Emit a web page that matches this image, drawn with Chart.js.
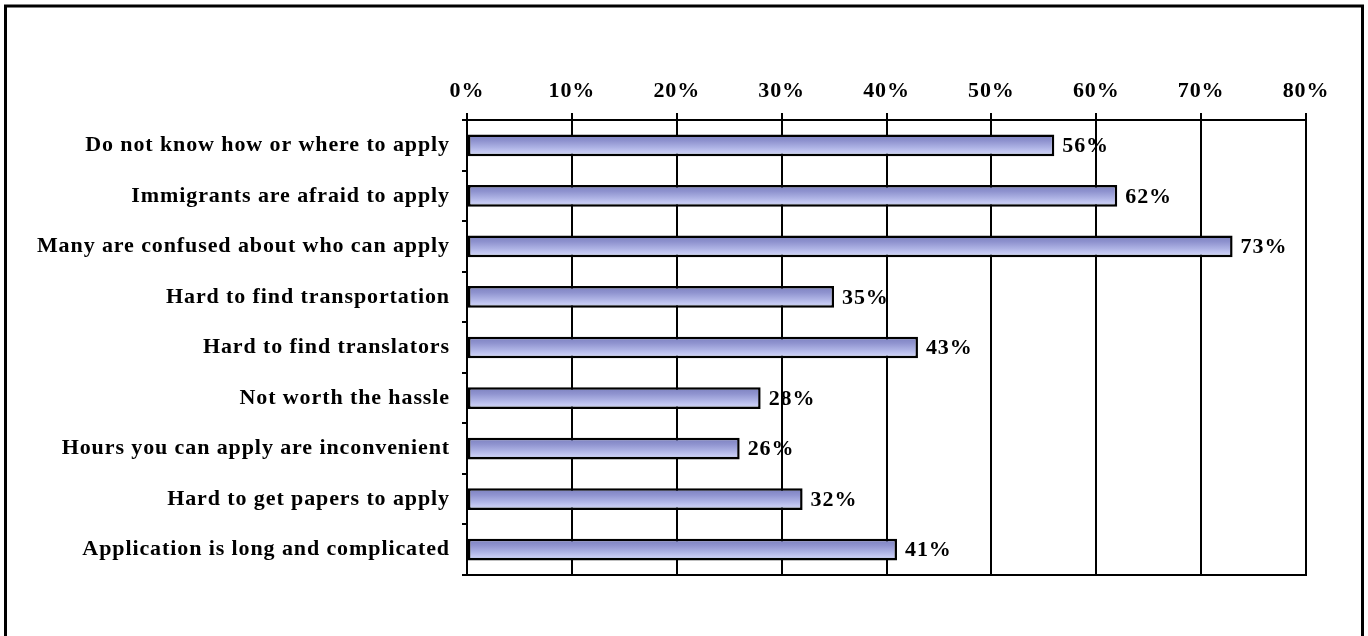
<!DOCTYPE html>
<html>
<head>
<meta charset="utf-8">
<script src="https://cdn.jsdelivr.net/npm/chart.js@4.4.1/dist/chart.umd.min.js"></script>
<style>
  html, body { margin: 0; padding: 0; background: #ffffff; }
  #wrap { position: absolute; left: 0; top: 0; width: 1368px; height: 636px; }
</style>
</head>
<body>
<div id="wrap"><canvas id="c" width="1368" height="636"></canvas></div>
<script>
const categories = [
  "Do not know how or where to apply",
  "Immigrants are afraid to apply",
  "Many are confused about who can apply",
  "Hard to find transportation",
  "Hard to find translators",
  "Not worth the hassle",
  "Hours you can apply are inconvenient",
  "Hard to get papers to apply",
  "Application is long and complicated"
];
const values = [56, 62, 73, 35, 43, 28, 26, 32, 41];
const tickValues = [0, 10, 20, 30, 40, 50, 60, 70, 80];

const FONT = { family: "'Liberation Serif', 'Times New Roman', serif", size: 22, weight: 'bold' };
const SPACING = '0.9px';
const BAR_FRACTION = 0.43;

const spacingPlugin = {
  id: 'spacing',
  beforeLayout(chart) { chart.ctx.letterSpacing = SPACING; },
  beforeDraw(chart) { chart.ctx.letterSpacing = SPACING; }
};

const framePlugin = {
  id: 'frame',
  afterDraw(chart) {
    const ctx = chart.ctx;
    ctx.save();
    ctx.strokeStyle = '#000';
    ctx.lineWidth = 3;
    ctx.beginPath();
    ctx.moveTo(5.5, 640);
    ctx.lineTo(5.5, 6);
    ctx.lineTo(1362.5, 6);
    ctx.lineTo(1362.5, 640);
    ctx.stroke();
    ctx.restore();
  }
};

const boxPlugin = {
  id: 'box',
  beforeDatasetsDraw(chart) {
    const a = chart.chartArea;
    const ctx = chart.ctx;
    ctx.save();
    ctx.strokeStyle = '#000';
    ctx.lineWidth = 2;
    ctx.beginPath();
    ctx.moveTo(a.left, a.bottom);
    ctx.lineTo(a.right + 1, a.bottom);
    ctx.stroke();
    ctx.restore();
  }
};

const labelPlugin = {
  id: 'valueLabels',
  afterDatasetsDraw(chart) {
    const ctx = chart.ctx;
    const meta = chart.getDatasetMeta(0);
    ctx.save();
    ctx.letterSpacing = SPACING;
    ctx.font = `${FONT.weight} ${FONT.size}px ${FONT.family}`;
    ctx.fillStyle = '#000';
    ctx.textAlign = 'left';
    ctx.textBaseline = 'middle';
    meta.data.forEach((bar, i) => {
      ctx.fillText(values[i] + '%', bar.x + 8, bar.y + 1);
    });
    ctx.restore();
  }
};

function barGradient(context) {
  const chart = context.chart;
  const ys = chart.scales && chart.scales.y;
  if (!chart.chartArea || !ys || ys.getPixelForValue === undefined) return '#a8aee0';
  const yc = ys.getPixelForValue(context.dataIndex);
  const band = (ys.bottom - ys.top) / categories.length;
  if (!isFinite(yc) || !isFinite(band) || band <= 0) return '#a8aee0';
  const h = band * BAR_FRACTION;
  const g = chart.ctx.createLinearGradient(0, yc - h / 2, 0, yc + h / 2);
  g.addColorStop(0, '#7a7fbe');
  g.addColorStop(0.3, '#8f93cf');
  g.addColorStop(0.6, '#adb2e4');
  g.addColorStop(0.82, '#c6caf3');
  g.addColorStop(0.88, '#c0c8e6');
  g.addColorStop(1, '#b4c3cb');
  return g;
}

new Chart(document.getElementById('c'), {
  type: 'bar',
  data: {
    labels: categories,
    datasets: [{
      data: values,
      backgroundColor: barGradient,
      borderColor: '#000',
      borderWidth: 2.5,
      borderSkipped: false,
      categoryPercentage: 1.0,
      barPercentage: BAR_FRACTION
    }]
  },
  options: {
    indexAxis: 'y',
    responsive: false,
    animation: false,
    layout: { padding: { left: 0, right: 62, top: 0, bottom: 61 } },
    plugins: {
      legend: { display: false },
      tooltip: { enabled: false },
      title: { display: false }
    },
    scales: {
      x: {
        position: 'top',
        min: 0,
        max: 80,
        afterBuildTicks(scale) { scale.ticks = tickValues.map(v => ({ value: v })); },
        afterFit(scale) { scale.height = 120; },
        ticks: {
          font: FONT,
          color: '#000',
          padding: 8,
          maxRotation: 0,
          callback: (v) => v + '%'
        },
        grid: { color: '#000', lineWidth: 2, tickLength: 7, drawTicks: true },
        border: { display: true, color: '#000', width: 2 }
      },
      y: {
        afterFit(scale) { scale.width = 467; },
        ticks: { font: FONT, color: '#000', padding: 12, autoSkip: false },
        grid: { color: '#000', lineWidth: 2, tickLength: 5, drawOnChartArea: false, offset: true },
        border: { display: true, color: '#000', width: 2 }
      }
    }
  },
  plugins: [spacingPlugin, boxPlugin, labelPlugin, framePlugin]
});
</script>
</body>
</html>
